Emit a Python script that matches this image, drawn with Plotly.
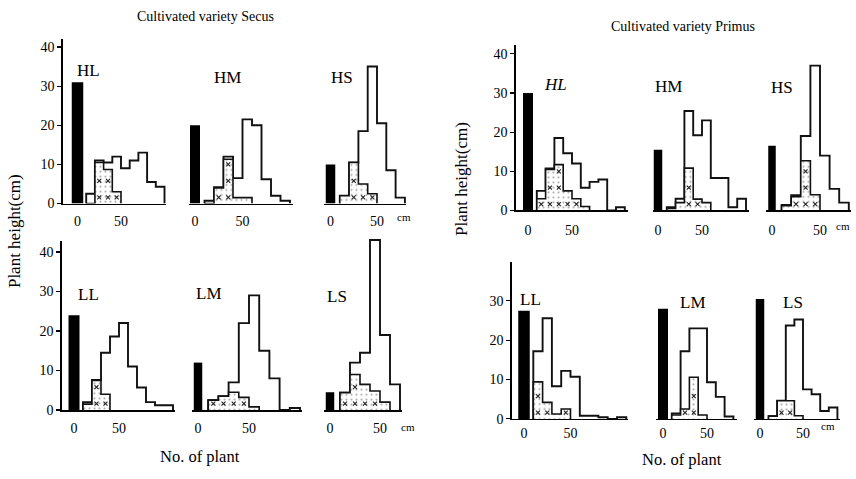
import plotly.graph_objects as go
import numpy as np

W, H = 856, 479
FONT = "Liberation Serif, Times New Roman, serif"

# ---------------- data ----------------
panel_names = ["HL", "HM", "HS", "LL", "LM", "LS"]
class_start = 10      # first 10-cm height class starts at 10 cm
class_width = 10
x_tick_values = [0, 50]
x_tick_labels = ["0", "50"]

# black bars (value at 0 cm)
secus_black = [31, 20, 10, 24, 12, 4.5]
primus_black = [30, 15.5, 16.5, 27.5, 28, 30.5]

# outline histograms (all plants), classes 10-20, 20-30, ...
secus_HL_all = [2.5, 11, 10.5, 12, 9, 11, 13, 5.5, 4.3]
secus_HM_all = [0.7, 4.2, 12, 6.5, 21.5, 20, 6.2, 2, 0.7]
secus_HS_all = [2, 10.5, 18.5, 35, 20.5, 8.5, 1.5]
secus_LL_all = [2, 7.6, 14.5, 18.6, 22, 11, 5.7, 2, 1.2, 1.2]
secus_LM_all = [2.5, 3.5, 7, 22, 29, 15, 8, 0, 0.5]
secus_LS_all = [4.4, 12, 14.5, 43, 19, 6.5]

# dotted histograms (crossed plants)
secus_HL_dot = [0, 10.5, 8.7, 3]
secus_HM_dot = [0, 4, 11.3, 1.5, 1.5]
secus_HS_dot = [2, 10.5, 5, 2.5]
secus_LL_dot = [1.5, 7.5, 4]
secus_LM_dot = [2.5, 3.5, 4.5, 3.2, 0.8]
secus_LS_dot = [4.4, 9, 6.5, 4.8, 2]

primus_HL_all = [5, 10.7, 18.5, 14.6, 12, 5.8, 7.3, 7.9, 0, 0.8]
primus_HM_all = [0.8, 3, 25.4, 19.2, 23, 8.3, 8.3, 0.8, 3]
primus_HS_all = [1.4, 3.9, 19, 37, 14, 5.5, 2]
primus_LL_all = [17.2, 25.6, 8.3, 12.2, 10.7, 0.8, 0.8, 0.4, 0, 0.4]
primus_LM_all = [1.4, 17.2, 23, 23, 9.3, 5.6, 0.6]
primus_LS_all = [0.7, 4.6, 23.75, 25.25, 7.5, 6.25, 2, 2.9]

primus_HL_dot = [3, 10.5, 11.7, 5, 3, 1]
primus_HM_dot = [0.5, 2, 10.8, 2.9, 2]
primus_HS_dot = [1.2, 3.5, 12.7, 4]
primus_LL_dot = [9.4, 4.2, 1.25, 2.5]
primus_LM_dot = [1, 2.5, 10.6, 1]
primus_LS_dot = [0.7, 4.6, 4.6, 0.8]

y_ticks_full = [0, 10, 20, 30, 40]
y_ticks_short = [0, 10, 20, 30]

# ---------------- layout specs (pixel geometry) ----------------
# x0: pixel of 0 cm, ppu: px per cm, ybase: pixel of baseline, ypu: px per plant
specs = [
    # Secus
    dict(x0=77.5, ppu=0.87, ybase=207, ypu=3.98, left=63, right=166, ytop=42, axis=y_ticks_full, barpx=11.5, so=4),
    dict(x0=195, ppu=0.95, ybase=207, ypu=3.98, left=189, right=293, ytop=45, axis=None, barpx=10, so=4),
    dict(x0=330.5, ppu=0.93, ybase=207, ypu=3.98, left=324, right=406, ytop=45, axis=None, barpx=9.5, so=4),
    dict(x0=74, ppu=0.9, ybase=417, ypu=4.02, left=62, right=175, ytop=42.8, axis=y_ticks_full, barpx=11, so=5),
    dict(x0=198, ppu=1.02, ybase=417, ypu=4.02, left=192, right=302, ytop=45, axis=None, barpx=8.5, so=5),
    dict(x0=330, ppu=1.0, ybase=417, ypu=4.02, left=324, right=402, ytop=45, axis=None, barpx=8.5, so=5),
    # Primus
    dict(x0=528, ppu=0.88, ybase=214, ypu=3.98, left=516, right=628, ytop=42.3, axis=y_ticks_full, barpx=10, so=6),
    dict(x0=658, ppu=0.88, ybase=214, ypu=3.98, left=653, right=749, ytop=45, axis=None, barpx=8.5, so=6),
    dict(x0=772, ppu=0.96, ybase=214, ypu=3.98, left=766, right=851, ytop=45, axis=None, barpx=7.5, so=6),
    dict(x0=524, ppu=0.93, ybase=426, ypu=4.0, left=512, right=628, ytop=40, axis=y_ticks_short, barpx=11.5, so=1),
    dict(x0=663, ppu=0.88, ybase=426, ypu=4.0, left=656, right=737, ytop=45, axis=None, barpx=10, so=1),
    dict(x0=760, ppu=0.86, ybase=426, ypu=4.0, left=754, right=840, ytop=45, axis=None, barpx=8.5, so=1),
]

blacks = secus_black + primus_black
alls = [secus_HL_all, secus_HM_all, secus_HS_all, secus_LL_all, secus_LM_all, secus_LS_all,
        primus_HL_all, primus_HM_all, primus_HS_all, primus_LL_all, primus_LM_all, primus_LS_all]
dots = [secus_HL_dot, secus_HM_dot, secus_HS_dot, secus_LL_dot, secus_LM_dot, secus_LS_dot,
        primus_HL_dot, primus_HM_dot, primus_HS_dot, primus_LL_dot, primus_LM_dot, primus_LS_dot]

fig = go.Figure()
layout = dict(width=W, height=H, margin=dict(l=0, r=0, t=0, b=0),
              plot_bgcolor="white", paper_bgcolor="white", showlegend=False,
              font=dict(family=FONT, color="black"))


def step_xy(vals):
    edges = class_start + class_width * np.arange(len(vals) + 1)
    xs = [edges[0]] + list(edges[:-1]) + [edges[-1]]
    ys = [0] + list(vals) + [0]
    return xs, ys, edges


for i, sp in enumerate(specs):
    n = i + 1
    xa = "x" if n == 1 else f"x{n}"
    ya = "y" if n == 1 else f"y{n}"
    xk = "xaxis" if n == 1 else f"xaxis{n}"
    yk = "yaxis" if n == 1 else f"yaxis{n}"

    # outline histogram
    xs, ys, edges = step_xy(alls[i])
    fig.add_trace(go.Scatter(x=xs, y=ys, mode="lines", xaxis=xa, yaxis=ya,
                             line=dict(color="#111", width=1.9, shape="hv"),
                             hoverinfo="skip"))
    # dotted histogram
    dxs, dys, dedges = step_xy(dots[i])
    fig.add_trace(go.Scatter(x=dxs, y=dys, mode="lines", xaxis=xa, yaxis=ya,
                             line=dict(color="#111", width=1.6, shape="hv"),
                             fill="tozeroy", fillcolor="white",
                             fillpattern=dict(shape=".", fgcolor="#555", bgcolor="white",
                                              size=5, solidity=0.15),
                             hoverinfo="skip"))
    # x marks inside dotted classes
    mx, my = [], []
    for k, h in enumerate(dots[i]):
        c = dedges[k] + class_width / 2
        for yy in np.arange(1.6, h - 0.8, 4.2):
            mx.append(c)
            my.append(yy)
    if mx:
        fig.add_trace(go.Scatter(x=mx, y=my, mode="markers", xaxis=xa, yaxis=ya,
                                 marker=dict(symbol="x-thin", size=4,
                                             line=dict(width=1.1, color="#222")),
                                 hoverinfo="skip"))
    # black bar
    fig.add_trace(go.Bar(x=[0], y=[blacks[i]], width=sp["barpx"] / sp["ppu"],
                         xaxis=xa, yaxis=ya, marker=dict(color="black", line=dict(width=0)),
                         hoverinfo="skip"))

    left, right = sp["left"], sp["right"]
    ytop_px = sp["ybase"] - sp["ytop"] * sp["ypu"]
    layout[xk] = dict(domain=[left / W, right / W],
                      range=[(left - sp["x0"]) / sp["ppu"], (right - sp["x0"]) / sp["ppu"]],
                      anchor=ya, showline=True, linecolor="black", linewidth=1.6,
                      showgrid=False, zeroline=False, tickmode="array",
                      tickvals=x_tick_values, ticktext=x_tick_labels, ticks="",
                      ticklabelstandoff=sp["so"],
                      tickfont=dict(family=FONT, size=14, color="black"), fixedrange=True)
    ydict = dict(domain=[(H - sp["ybase"]) / H, (H - ytop_px) / H],
                 range=[0, sp["ytop"]], anchor=xa, showgrid=False, zeroline=False,
                 fixedrange=True)
    if sp["axis"] is not None:
        ydict.update(showline=True, linecolor="black", linewidth=1.6, ticks="outside",
                     ticklen=4, tickwidth=1.2, tickcolor="black", tickmode="array",
                     tickvals=sp["axis"], ticktext=[str(v) for v in sp["axis"]],
                     tickfont=dict(family=FONT, size=14, color="black"))
    else:
        ydict.update(visible=False)
    layout[yk] = ydict

fig.update_layout(**layout)


def ann(text, x, y, size, angle=0, italic=False, xanchor="center"):
    t = f"<i>{text}</i>" if italic else text
    fig.add_annotation(text=t, x=x / W, y=1 - y / H, xref="paper", yref="paper",
                       showarrow=False, textangle=angle, xanchor=xanchor, yanchor="middle",
                       font=dict(family=FONT, size=size, color="black"))


ann("Cultivated variety Secus", 205, 17, 14)
ann("Cultivated variety Primus", 683, 27, 14)
ann("Plant height(cm)", 14, 235, 17, angle=-90)
ann("Plant height(cm)", 462, 182, 17, angle=-90)
ann("No. of plant", 200, 464, 16.5)
ann("No. of plant", 682, 467, 16.5)

label_pos = [(88, 72), (228, 79), (342, 79), (88, 300), (209, 298), (337, 302),
             (555, 86), (668, 88), (782, 89), (530, 305), (693, 308), (793, 308)]
for i, (px, py) in enumerate(label_pos):
    ann(panel_names[i % 6], px, py, 17, italic=(i == 6))

for (cx, cy) in [(404, 221), (408, 434), (828, 433)]:
    ann("cm", cx, cy, 11)
ann("cm", 852, 230, 11, xanchor="right")

fig.write_html("out.html", config={"displayModeBar": False, "staticPlot": True},
               post_script="document.body.style.margin='0px';document.body.style.overflow='hidden';")
